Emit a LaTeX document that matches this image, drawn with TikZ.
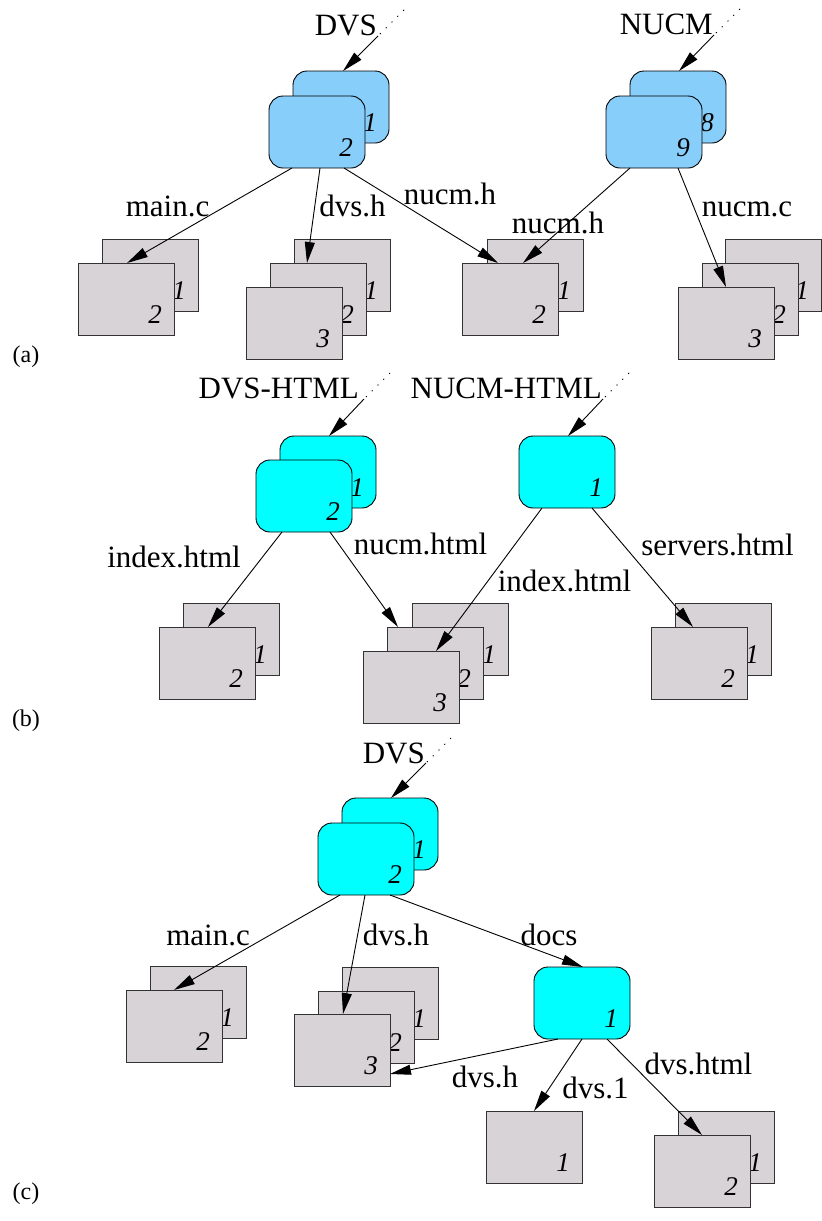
\documentclass[tikz,border=0pt]{standalone}
\usepackage{fontspec}
\setmainfont{Liberation Serif}
\usetikzlibrary{arrows.meta}
\definecolor{dirblue}{RGB}{135,206,250}
\definecolor{dircyan}{RGB}{0,255,255}
\definecolor{filegray}{RGB}{215,211,215}
\newcommand\bx[5]{\node[#5] (#1) at (#2,#3) {}; \node[num] (#1n) at ([xshift=-12pt,yshift=12pt]#1.south east) {#4};}
\begin{document}
\begin{tikzpicture}[x=1pt,y=-1pt,
  boxbase/.style={anchor=north west, minimum width=96pt, minimum height=72pt, inner sep=0pt, outer sep=0pt, draw=black, line width=0.9pt},
  filebox/.style={boxbase, fill=filegray, draw=black!80},
  bluebox/.style={boxbase, fill=dirblue, rounded corners=14pt},
  cyanbox/.style={boxbase, fill=dircyan, rounded corners=14pt},
  num/.style={anchor=base east, inner sep=0pt, font=\fontsize{27}{30}\selectfont\itshape},
  lbl/.style={anchor=base, inner sep=0pt, font=\fontsize{31}{36}\selectfont},
  rootlbl/.style={anchor=base east, inner sep=0pt, font=\fontsize{31}{36}\selectfont},
  partlbl/.style={anchor=base, inner sep=0pt, font=\fontsize{24}{28}\selectfont},
  arr/.style={line width=0.9pt, -{Triangle[length=21pt,width=10pt]}},
  dots/.style={line width=0.8pt, dash pattern=on 1.2pt off 7pt}]
\useasboundingbox (0,0) rectangle (822,1221);

% ---------------- (a) ----------------
\bx{a1b}{293}{71}{1}{bluebox}
\bx{a1f}{269}{96}{2}{bluebox}
\bx{a2b}{630}{71}{8}{bluebox}
\bx{a2f}{606}{96}{9}{bluebox}
\bx{s1b}{102}{239}{1}{filebox}
\bx{s1f}{78}{263}{2}{filebox}
\bx{s2b}{294}{239}{1}{filebox}
\bx{s2m}{270}{263}{2}{filebox}
\bx{s2f}{246}{287}{3}{filebox}
\bx{s3b}{487}{239}{1}{filebox}
\bx{s3f}{462}{263}{2}{filebox}
\bx{s4b}{725}{239}{1}{filebox}
\bx{s4m}{702}{263}{2}{filebox}
\bx{s4f}{678}{287}{3}{filebox}

\node[rootlbl] (dvsA) at (377,35) {DVS};
\node[rootlbl] (nucmA) at (713,34) {NUCM};
\coordinate (dvsAs) at (378,36);
\coordinate (dvsAd) at (404,10);
\coordinate (nucmAs) at (714,35);
\coordinate (nucmAd) at (740,9);
\draw[dots] (dvsAd) -- (dvsAs);
\draw[arr] (dvsAs) -- ([xshift=50pt]a1b.north west);
\draw[dots] (nucmAd) -- (nucmAs);
\draw[arr] (nucmAs) -- ([xshift=49pt]a2b.north west);

\draw[arr] ([xshift=23pt]a1f.south west) -- ([xshift=49pt]s1f.north west);
\draw[arr] ([xshift=51pt]a1f.south west) -- ([xshift=37pt]s2m.north west);
\draw[arr] ([xshift=75pt]a1f.south west) -- ([xshift=36pt]s3f.north west);
\draw[arr] ([xshift=24pt]a2f.south west) -- ([xshift=61pt]s3f.north west);
\draw[arr] ([xshift=72pt]a2f.south west) -- ([xshift=48pt]s4f.north west);

\node[lbl] (la1) at (167.5,216) {main.c};
\node[lbl] (la2) at (352.5,216) {dvs.h};
\node[lbl] (la3) at (450,204) {nucm.h};
\node[lbl] (la4) at (558,233) {nucm.h};
\node[lbl] (la5) at (747,216) {nucm.c};
\node[partlbl] (pa) at (26,362) {(a)};

% ---------------- (b) ----------------
\bx{b1b}{280}{436}{1}{cyanbox}
\bx{b1f}{256}{460}{2}{cyanbox}
\bx{b2}{519}{436}{1}{cyanbox}
\bx{t1b}{183}{603}{1}{filebox}
\bx{t1f}{159}{627}{2}{filebox}
\bx{t2b}{412}{603}{1}{filebox}
\bx{t2m}{387}{627}{2}{filebox}
\bx{t2f}{363}{651}{3}{filebox}
\bx{t3b}{675}{603}{1}{filebox}
\bx{t3f}{651}{627}{2}{filebox}

\node[rootlbl] (dvsB) at (359,398) {DVS-HTML};
\node[rootlbl] (nucmB) at (602,398) {NUCM-HTML};
\coordinate (dvsBs) at (364,399);
\coordinate (dvsBd) at (390,373);
\coordinate (nucmBs) at (603,399);
\coordinate (nucmBd) at (629,373);
\draw[dots] (dvsBd) -- (dvsBs);
\draw[arr] (dvsBs) -- ([xshift=49pt]b1b.north west);
\draw[dots] (nucmBd) -- (nucmBs);
\draw[arr] (nucmBs) -- ([xshift=49pt]b2.north west);

\draw[arr] ([xshift=26pt]b1f.south west) -- ([xshift=49pt]t1f.north west);
\draw[arr] ([xshift=74pt]b1f.south west) -- ([xshift=11pt]t2m.north west);
\draw[arr] ([xshift=23pt]b2.south west) -- ([xshift=73pt]t2f.north west);
\draw[arr] ([xshift=73pt]b2.south west) -- ([xshift=42pt]t3f.north west);

\node[lbl] (lb1) at (174,567) {index.html};
\node[lbl] (lb2) at (420.5,554) {nucm.html};
\node[lbl] (lb3) at (564.5,591) {index.html};
\node[lbl] (lb4) at (717.5,555) {servers.html};
\node[partlbl] (pb) at (26,726) {(b)};

% ---------------- (c) ----------------
\bx{c1b}{342}{798}{1}{cyanbox}
\bx{c1f}{318}{823}{2}{cyanbox}
\bx{c2}{534}{967}{1}{cyanbox}
\bx{u1b}{150}{966}{1}{filebox}
\bx{u1f}{126}{990}{2}{filebox}
\bx{u2b}{342}{967}{1}{filebox}
\bx{u2m}{318}{991}{2}{filebox}
\bx{u2f}{294}{1014}{3}{filebox}
\bx{u3}{486}{1111}{1}{filebox}
\bx{u4b}{678}{1111}{1}{filebox}
\bx{u4f}{654}{1135}{2}{filebox}

\node[rootlbl] (dvsC) at (425,763) {DVS};
\coordinate (dvsCs) at (426,763);
\coordinate (dvsCd) at (451,738);
\draw[dots] (dvsCd) -- (dvsCs);
\draw[arr] (dvsCs) -- ([xshift=49pt]c1b.north west);

\draw[arr] ([xshift=22pt]c1f.south west) -- ([xshift=48pt]u1f.north west);
\draw[arr] ([xshift=47pt]c1f.south west) -- ([xshift=49pt]u2f.north west);
\draw[arr] ([xshift=72pt]c1f.south west) -- ([xshift=49pt]c2.north west);
\draw[arr] ([xshift=24pt]c2.south west) -- ([yshift=12pt]u2f.south east);
\draw[arr] ([xshift=48pt]c2.south west) -- ([xshift=48pt]u3.north west);
\draw[arr] ([xshift=73pt]c2.south west) -- ([xshift=48pt]u4f.north west);

\node[lbl] (lc1) at (208,945) {main.c};
\node[lbl] (lc2) at (396,945) {dvs.h};
\node[lbl] (lc3) at (549,945) {docs};
\node[lbl] (lc4) at (485,1087) {dvs.h};
\node[lbl] (lc5) at (595.5,1098) {dvs.1};
\node[lbl] (lc6) at (698.5,1074) {dvs.html};
\node[partlbl] (pc) at (26,1199) {(c)};
\end{tikzpicture}
\end{document}
